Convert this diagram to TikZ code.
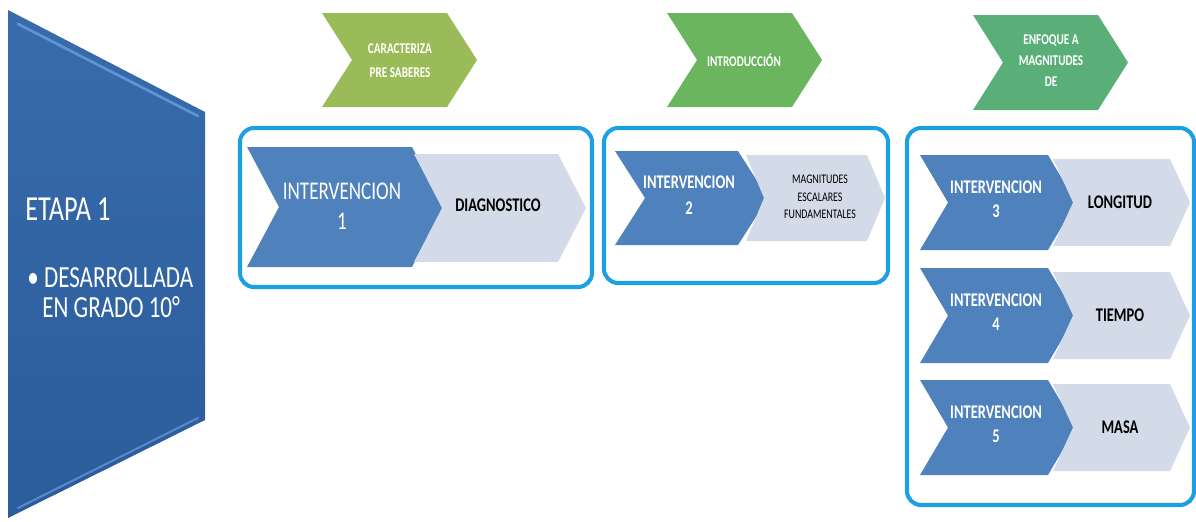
\documentclass[tikz,border=0pt]{standalone}
\usepackage{fontspec}
\setmainfont{Carlito}[FakeStretch=0.75]
\definecolor{etapaazul}{RGB}{46,100,168}
\definecolor{bisel}{RGB}{110,160,220}
\definecolor{verdeA}{RGB}{155,187,89}
\definecolor{verdeB}{RGB}{106,181,94}
\definecolor{verdeC}{RGB}{90,175,120}
\definecolor{intervazul}{RGB}{79,129,189}
\definecolor{grisazul}{RGB}{212,219,232}
\definecolor{marco}{RGB}{28,160,226}
% chevron: x izq, y arriba, ancho, alto, punta, relleno
\newcommand{\flecha}[6]{%
  \fill[#6] (#1,#2) -- ++(#3,0) -- ++(#5,#4/2) -- ++(-#5,#4/2) -- ++(-#3,0) -- ++(#5,-#4/2) -- cycle;}
\tikzset{
  marcobox/.style={draw=marco, line width=2.3pt, rounded corners=8pt},
  txtblanco/.style={text=white, align=center, inner sep=0pt},
  txtnegro/.style={text=black, align=center, inner sep=0pt},
}
\begin{document}
\begin{tikzpicture}[x=0.02cm, y=-0.02cm]
  \useasboundingbox (0,0) rectangle (1196,521);
  % etapa
  \shade[top color=etapaazul!95!white, bottom color=etapaazul!92!black] (8,10) -- (205,112) -- (205,420) -- (8,518) -- cycle;
  \draw[bisel!80!etapaazul, line width=1.5pt, line cap=round] (18,24) -- (198,116);
  \draw[bisel!60!etapaazul, line width=1.2pt, line cap=round] (198,418) -- (18,508);
  \node[txtblanco, anchor=base west, font=\fontsize{20}{24}\selectfont] (etapa) at (25,220) {ETAPA 1};
  \node[txtblanco, anchor=base west, font=\fontsize{17.5}{21}\selectfont] (desarrollada) at (27,287) {\textbullet\hspace{3pt}DESARROLLADA};
  \node[txtblanco, anchor=base west, font=\fontsize{17.5}{21}\selectfont] (grado) at (42,317) {EN GRADO 10°};
  % fases
  \flecha{322}{13}{125}{94}{30}{verdeA}
  \flecha{667}{13}{125}{94}{30}{verdeB}
  \flecha{973}{15}{125}{95}{30}{verdeC}
  \node[txtblanco, font=\bfseries\fontsize{8.5}{13.5}\selectfont] (caracteriza) at (400,61) {CARACTERIZA\\PRE SABERES};
  \node[txtblanco, font=\bfseries\fontsize{8.5}{13.5}\selectfont] (introduccion) at (744,60) {INTRODUCCIÓN};
  \node[txtblanco, font=\bfseries\fontsize{8.5}{12}\selectfont] (enfoque) at (1051,61) {ENFOQUE A\\MAGNITUDES\\DE};
  % intervencion 1
  \draw[marcobox] (240,128) rectangle (592,287);
  \flecha{247}{147}{165}{120}{32}{intervazul}
  \flecha{414}{154}{144}{108}{28}{grisazul}
  \node[txtblanco, font=\fontsize{14.5}{17}\selectfont] (interv1) at (342,206) {INTERVENCION\\1};
  \node[txtnegro, font=\bfseries\fontsize{11}{14}\selectfont] (diagnostico) at (498,205) {DIAGNOSTICO};
  % intervencion 2
  \draw[marcobox] (604,128) rectangle (888,283);
  \flecha{615}{151}{123}{94}{30}{intervazul}
  \flecha{746}{155}{121}{86}{18}{grisazul}
  \node[txtblanco, font=\bfseries\fontsize{11}{15}\selectfont] (interv2) at (689,195) {INTERVENCION\\2};
  \node[txtnegro, font=\fontsize{7.5}{10}\selectfont] (escalares) at (820,197) {MAGNITUDES\\ESCALARES\\FUNDAMENTALES};
  % intervenciones 3 a 5
  \draw[marcobox] (907,128) rectangle (1194,505);
  \foreach \n/\y/\txt in {3/155/LONGITUD, 4/268/TIEMPO, 5/380/MASA}{
    \flecha{920}{\y}{128}{95}{28}{intervazul}
    \flecha{1053}{\y+4}{117}{87}{20}{grisazul}
    \node[txtblanco, font=\bfseries\fontsize{11}{13.6}\selectfont] (interv\n) at (996,\y+44) {INTERVENCION\\\n};
    \node[txtnegro, font=\bfseries\fontsize{11}{14}\selectfont] (magnitud\n) at (1120,\y+47) {\txt};
  }
\end{tikzpicture}
\end{document}
